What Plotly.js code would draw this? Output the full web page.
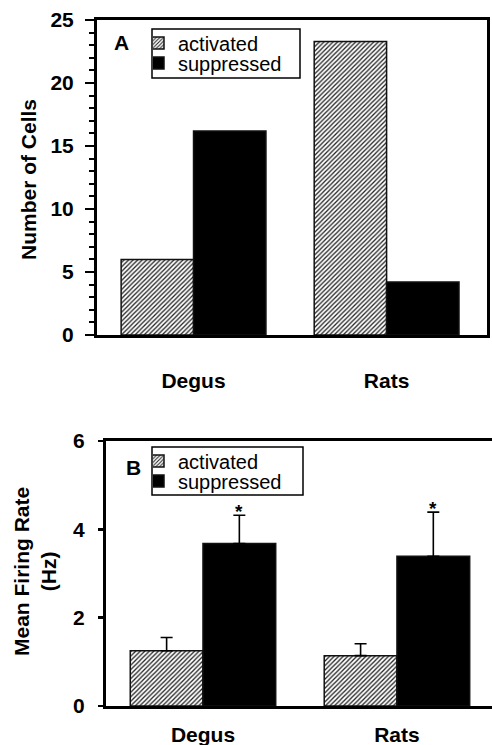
<!DOCTYPE html>
<html>
<head>
<meta charset="utf-8">
<script src="https://cdn.plot.ly/plotly-3.0.1.min.js"></script>
<style>html,body{margin:0;padding:0;background:#fff;}#chart{width:492px;height:745px;}</style>
</head>
<body>
<div id="chart"></div>
<script>
// ---- data ----
const categories = ['Degus', 'Rats'];
const seriesNames = ['activated', 'suppressed'];
const cellsActivated = [6, 23.3];
const cellsSuppressed = [16.2, 4.2];
const rateActivated = [1.25, 1.14];
const rateActivatedErr = [0.30, 0.27];
const rateSuppressed = [3.68, 3.39];
const rateSuppressedErr = [0.64, 1.00];
const suppressedSig = ['*', '*'];
const cellsTicks = [0, 5, 10, 15, 20, 25];
const rateTicks = [0, 2, 4, 6];

// ---- style ----
const FONT = 'Liberation Sans, Arial, Helvetica, sans-serif';
const hatch = {shape: '/', size: 3.2, solidity: 0.4, fgcolor: '#222', bgcolor: '#fff', fillmode: 'replace'};
const BARGAP = 0.25;
const barW = (1 - BARGAP) / 2;

function zeros(a) { return a.map(() => 0); }

const traces = [
  {type: 'bar', x: categories, y: cellsActivated, name: seriesNames[0], xaxis: 'x', yaxis: 'y',
   marker: {color: '#fff', pattern: hatch, line: {color: '#111', width: 1.5}}, legend: 'legend'},
  {type: 'bar', x: categories, y: cellsSuppressed, name: seriesNames[1], xaxis: 'x', yaxis: 'y',
   marker: {color: '#000', line: {color: '#111', width: 1.5}}, legend: 'legend2'},
  {type: 'bar', x: categories, y: rateActivated, name: seriesNames[0], xaxis: 'x2', yaxis: 'y2',
   marker: {color: '#fff', pattern: hatch, line: {color: '#111', width: 1.5}}, legend: 'legend3',
   error_y: {type: 'data', symmetric: false, array: rateActivatedErr, arrayminus: zeros(rateActivatedErr), color: '#000', thickness: 1.6, width: 6}},
  {type: 'bar', x: categories, y: rateSuppressed, name: seriesNames[1], xaxis: 'x2', yaxis: 'y2',
   marker: {color: '#000', line: {color: '#111', width: 1.5}}, legend: 'legend4',
   error_y: {type: 'data', symmetric: false, array: rateSuppressedErr, arrayminus: zeros(rateSuppressedErr), color: '#000', thickness: 1.6, width: 6}}
];

const titleFont = {family: FONT, size: 21, color: '#000', weight: 'bold'};
const annotations = [
  {xref: 'paper', yref: 'paper', x: 28 / 492, y: 1 - 180 / 745, xanchor: 'center', yanchor: 'middle',
   text: 'Number of Cells', textangle: -90, showarrow: false, font: titleFont},
  {xref: 'paper', yref: 'paper', x: 35 / 492, y: 1 - 572 / 745, xanchor: 'center', yanchor: 'middle',
   text: 'Mean Firing Rate<br>(Hz)', textangle: -90, showarrow: false, font: titleFont},
  {xref: 'paper', yref: 'paper', x: 121 / 492, y: 1 - 43 / 745, xanchor: 'center', yanchor: 'middle', text: 'A', showarrow: false,
   font: {family: FONT, size: 21, color: '#000', weight: 'bold'}},
  {xref: 'paper', yref: 'paper', x: 133 / 492, y: 1 - 467 / 745, xanchor: 'center', yanchor: 'middle', text: 'B', showarrow: false,
   font: {family: FONT, size: 21, color: '#000', weight: 'bold'}}
];
suppressedSig.forEach((s, i) => {
  annotations.push({xref: 'x2', yref: 'y2', x: i + barW / 2, y: rateSuppressed[i] + rateSuppressedErr[i],
    text: s, showarrow: false, xanchor: 'center', yanchor: 'bottom', yshift: -9,
    font: {family: FONT, size: 19, color: '#000', weight: 'bold'}});
});

// legend frames (one framed box per panel, each entry is its own Plotly legend row)
const shapes = [
  {type: 'rect', xref: 'paper', yref: 'paper', x0: 152 / 492, x1: 300 / 492, y0: 1 - 78 / 745, y1: 1 - 29 / 745,
   line: {color: '#000', width: 1.5}, fillcolor: '#fff', layer: 'above'},
  {type: 'rect', xref: 'paper', yref: 'paper', x0: 152 / 492, x1: 303 / 492, y0: 1 - 495 / 745, y1: 1 - 447 / 745,
   line: {color: '#000', width: 1.5}, fillcolor: '#fff', layer: 'above'}
];

const tickFont = {family: FONT, size: 21, color: '#000', weight: 'bold'};
const legendBase = {xanchor: 'left', yanchor: 'middle', bgcolor: 'rgba(0,0,0,0)', borderwidth: 0,
  font: {family: FONT, size: 20, color: '#000'}, indentation: -15, itemclick: false, x: 153 / 492};

const layout = {
  width: 492, height: 745,
  margin: {l: 0, r: 0, t: 0, b: 0},
  paper_bgcolor: '#fff', plot_bgcolor: '#fff',
  barmode: 'group', bargap: BARGAP, bargroupgap: 0,
  showlegend: true,
  legend: Object.assign({}, legendBase, {y: 1 - 43 / 745}),
  legend2: Object.assign({}, legendBase, {y: 1 - 63 / 745}),
  legend3: Object.assign({}, legendBase, {y: 1 - 461 / 745}),
  legend4: Object.assign({}, legendBase, {y: 1 - 481 / 745}),
  xaxis: {domain: [97 / 492, 487 / 492], anchor: 'y', type: 'category', range: [-0.5, 1.52],
    showline: true, linecolor: '#000', linewidth: 3, mirror: true, ticks: '', showgrid: false, zeroline: false,
    tickfont: tickFont, ticklabelstandoff: 25, fixedrange: true},
  yaxis: {domain: [1 - 335 / 745, 1 - 20 / 745], anchor: 'x', range: [0, 25], tickvals: cellsTicks,
    showline: true, linecolor: '#000', linewidth: 3, mirror: true, ticks: 'outside', ticklen: 9, tickwidth: 2.5, tickcolor: '#000',
    minor: {dtick: 1, ticks: 'outside', ticklen: 5, tickwidth: 2, tickcolor: '#000', showgrid: false},
    showgrid: false, zeroline: false, tickfont: tickFont, ticklabelstandoff: 7, fixedrange: true},
  xaxis2: {domain: [106 / 492, 1], anchor: 'y2', type: 'category', range: [-0.5, 1.49],
    showline: true, linecolor: '#000', linewidth: 3, mirror: true, ticks: '', showgrid: false, zeroline: false,
    tickfont: tickFont, ticklabelstandoff: 8, fixedrange: true},
  yaxis2: {domain: [1 - 706 / 745, 1 - 441 / 745], anchor: 'x2', range: [0, 6], tickvals: rateTicks,
    showline: true, linecolor: '#000', linewidth: 3, mirror: false, ticks: 'outside', ticklen: 5, tickwidth: 2.5, tickcolor: '#000',
    showgrid: false, zeroline: false, tickfont: tickFont, ticklabelstandoff: 9, fixedrange: true},
  shapes: shapes,
  annotations: annotations
};

Plotly.newPlot('chart', traces, layout, {displayModeBar: false, staticPlot: true});
</script>
</body>
</html>
